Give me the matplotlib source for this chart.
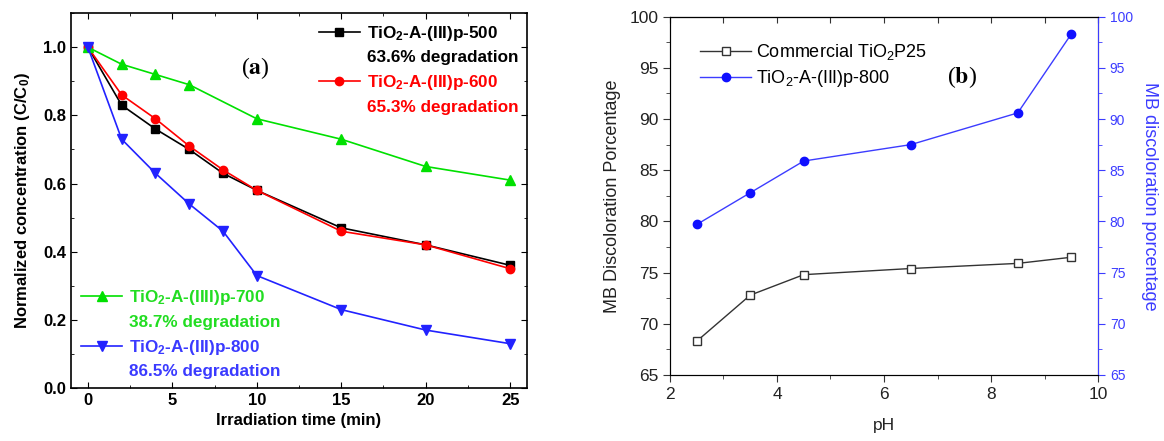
import matplotlib
matplotlib.use("Agg")
import matplotlib.pyplot as plt
from matplotlib.lines import Line2D
from matplotlib.ticker import MultipleLocator

plt.rcParams['font.family'] = ['Liberation Sans', 'DejaVu Sans']
plt.rcParams['mathtext.default'] = 'regular'

# ---- panel (a): photodegradation kinetics ----
time_min = [0, 2, 4, 6, 8, 10, 15, 20, 25]
c_500 = [1.0, 0.83, 0.76, 0.70, 0.63, 0.58, 0.47, 0.42, 0.36]
c_600 = [1.0, 0.86, 0.79, 0.71, 0.64, 0.58, 0.46, 0.42, 0.35]
c_700 = [1.0, 0.95, 0.92, 0.89, 0.84, 0.79, 0.73, 0.65, 0.61]
c_800 = [1.0, 0.73, 0.63, 0.54, 0.46, 0.33, 0.23, 0.17, 0.13]
names_a = ["TiO$_2$-A-(III)p-500", "TiO$_2$-A-(III)p-600",
           "TiO$_2$-A-(IIII)p-700", "TiO$_2$-A-(III)p-800"]
degr_a = ["63.6% degradation", "65.3% degradation",
          "38.7% degradation", "86.5% degradation"]

# ---- panel (b): effect of pH ----
ph = [2.5, 3.5, 4.5, 6.5, 8.5, 9.5]
p25 = [68.3, 72.8, 74.8, 75.4, 75.9, 76.5]
p800 = [79.7, 82.8, 85.9, 87.5, 90.6, 98.3]
names_b = ["Commercial TiO$_2$P25", "TiO$_2$-A-(III)p-800"]

GREEN = '#00e000'
GREEN_T = '#22dd22'
BLUE = '#2222ff'
BLUE_T = '#3a3aff'
BLUE_B = '#3c3cff'

fig = plt.figure(figsize=(11.64, 4.41), dpi=100)
axa = fig.add_axes([0.061, 0.1202, 0.3918, 0.850])
axb = fig.add_axes([0.5756, 0.1497, 0.3677, 0.8125])

# panel (a)
la, = axa.plot(time_min, c_500, '-s', color='black', lw=1.2, ms=6)
lb, = axa.plot(time_min, c_600, '-o', color='red', lw=1.2, ms=6)
lc, = axa.plot(time_min, c_700, '-^', color=GREEN, lw=1.2, ms=7,
               markevery=[0, 1, 2, 3, 5, 6, 7, 8])
ld, = axa.plot(time_min, c_800, '-v', color=BLUE, lw=1.2, ms=7)
axa.set_xlim(-1, 26)
axa.set_ylim(0, 1.1)
axa.xaxis.set_major_locator(MultipleLocator(5))
axa.xaxis.set_minor_locator(MultipleLocator(2.5))
axa.yaxis.set_major_locator(MultipleLocator(0.2))
axa.yaxis.set_minor_locator(MultipleLocator(0.1))
axa.set_yticks([0, 0.2, 0.4, 0.6, 0.8, 1.0])
axa.tick_params(which='both', direction='in', top=True, right=True)
axa.tick_params(which='major', length=4.5, labelsize=12)
axa.tick_params(which='minor', length=2.5)
for t in axa.get_xticklabels() + axa.get_yticklabels():
    t.set_fontweight('bold')
axa.set_xlabel("Irradiation time (min)", fontsize=12, fontweight='bold')
axa.set_ylabel("Normalized concentration (C/C$_0$)", fontsize=12,
               fontweight='bold', labelpad=8)
for s in axa.spines.values():
    s.set_linewidth(1.2)

blank = Line2D([], [], linestyle='none')
leg1 = axa.legend([la, blank, lb, blank],
                  [names_a[0], degr_a[0], names_a[1], degr_a[1]],
                  labelcolor=['black', 'black', 'red', 'red'],
                  loc='upper left', bbox_to_anchor=(0.525, 0.995),
                  frameon=False, borderpad=0, handlelength=2.4,
                  handletextpad=0.4, labelspacing=0.45,
                  prop={'weight': 'bold', 'size': 12.3})
axa.add_artist(leg1)
axa.legend([lc, blank, ld, blank],
           [names_a[2], degr_a[2], names_a[3], degr_a[3]],
           labelcolor=[GREEN_T, GREEN_T, BLUE_T, BLUE_T],
           loc='lower left', bbox_to_anchor=(0.004, 0.0),
           frameon=False, borderpad=0, handlelength=2.4,
           handletextpad=0.4, labelspacing=0.45,
           prop={'weight': 'bold', 'size': 12.3})
axa.text(0.403, 0.853, r"($\mathbf{a}$)", transform=axa.transAxes,
         ha='center', va='center', fontsize=17, family='Liberation Serif',
         math_fontfamily='stix')

# panel (b)
axb2 = axb.twinx()
lp, = axb.plot(ph, p25, '-s', color='#333333', lw=1.0, ms=6,
               mfc='white', mec='#333333', mew=1.0)
lq, = axb2.plot(ph, p800, '-o', color=BLUE_B, lw=1.0, ms=6,
                mfc='#1010ff', mec='#1010ff')
for ax in (axb, axb2):
    ax.set_xlim(2, 10)
    ax.set_ylim(65, 100)
    ax.yaxis.set_major_locator(MultipleLocator(5))
    ax.yaxis.set_minor_locator(MultipleLocator(2.5))
axb.xaxis.set_major_locator(MultipleLocator(2))
axb.xaxis.set_minor_locator(MultipleLocator(1))
axb.tick_params(which='both', direction='out', colors='#333333',
                labelcolor='#222222')
axb.tick_params(which='major', length=5, labelsize=12.5)
axb.tick_params(which='minor', length=3)
axb2.tick_params(which='both', direction='out', colors=BLUE_B,
                 labelcolor=BLUE_B)
axb2.tick_params(which='major', length=5, labelsize=10)
axb2.tick_params(which='minor', length=3)
top = axb.secondary_xaxis('top')
top.xaxis.set_major_locator(MultipleLocator(1))
top.tick_params(direction='in', length=4, labeltop=False, colors='#333333')
for s in ('left', 'bottom', 'top'):
    axb.spines[s].set_color('#333333')
axb2.spines['right'].set_color(BLUE_B)
top.spines['top'].set_color('#333333')
axb.set_xlabel("pH", fontsize=12.5, color='#222222', labelpad=12)
axb.set_ylabel("MB Discoloration Porcentage", fontsize=13, color='#222222',
               labelpad=6)
axb2.set_ylabel("MB discoloration porcentage", fontsize=13, color=BLUE_B,
                rotation=270, labelpad=18)
axb.legend([lp, lq], names_b, loc='upper left',
           bbox_to_anchor=(0.05, 0.955), frameon=False, borderpad=0,
           handlelength=2.8, handletextpad=0.3, labelspacing=0.35,
           prop={'size': 13})
axb.text(0.682, 0.832, r"($\mathbf{b}$)", transform=axb.transAxes,
         ha='center', va='center', fontsize=17, family='Liberation Serif',
         math_fontfamily='stix')

fig.savefig("out.png", dpi=100)
